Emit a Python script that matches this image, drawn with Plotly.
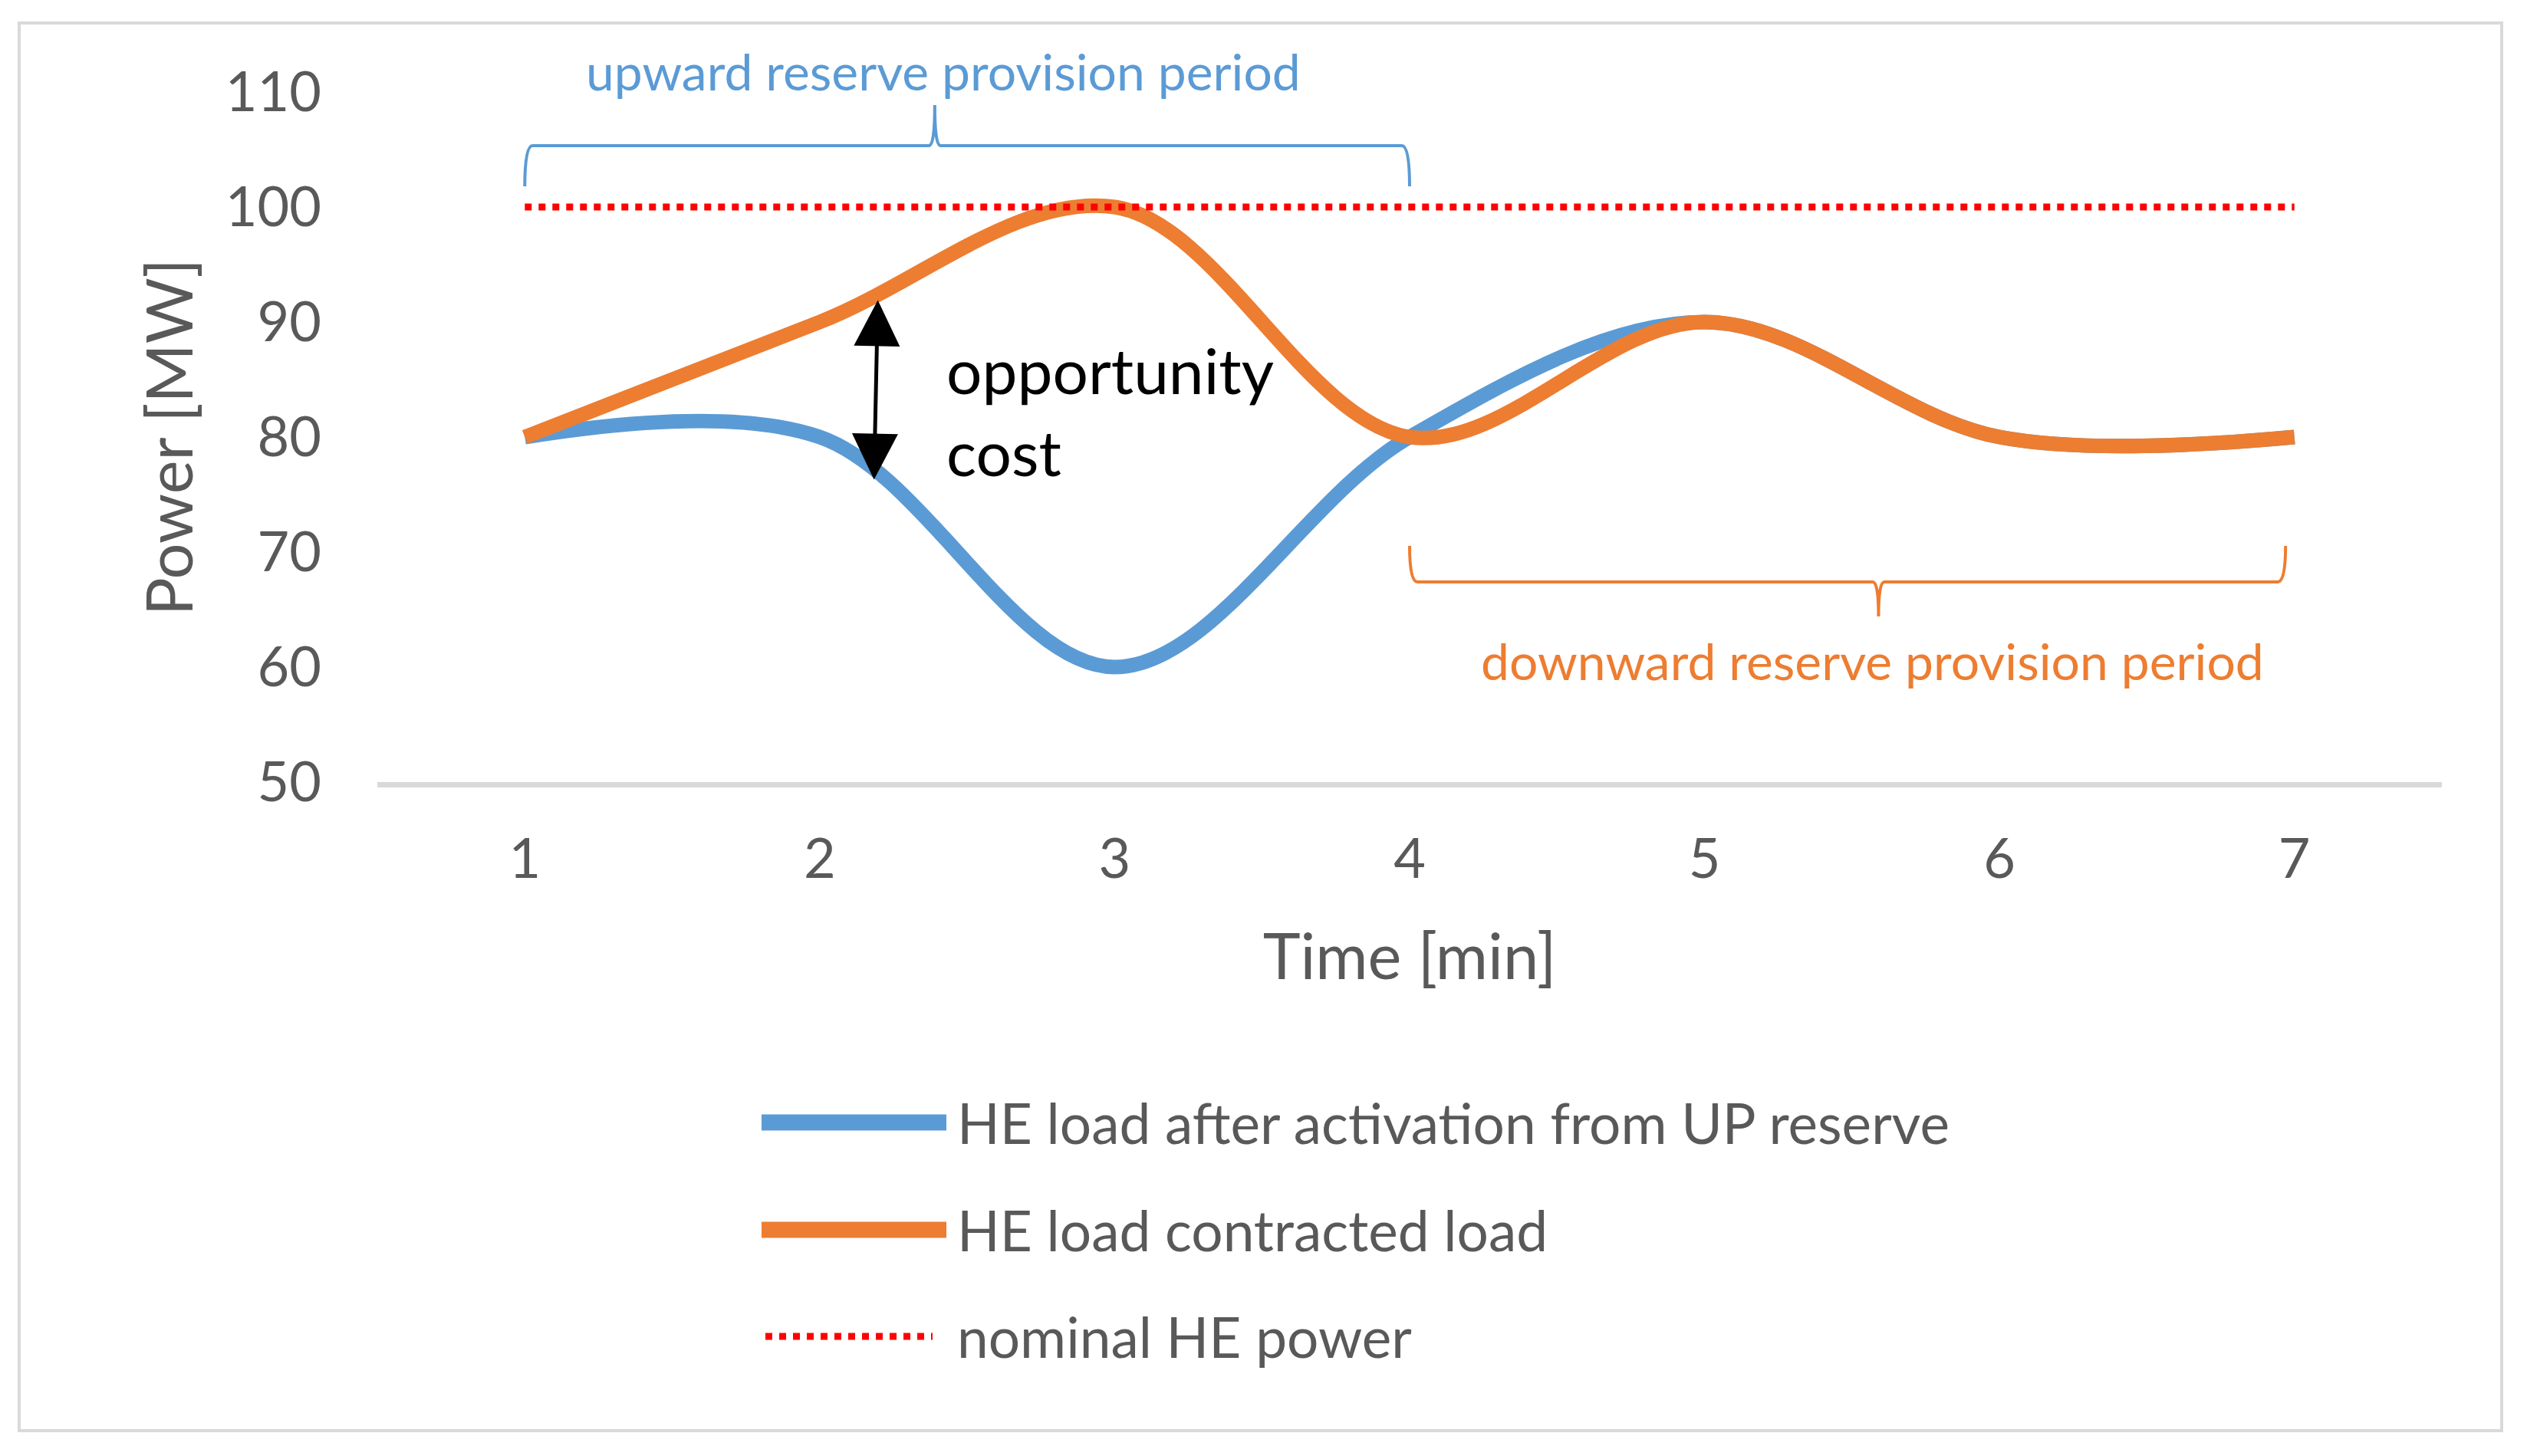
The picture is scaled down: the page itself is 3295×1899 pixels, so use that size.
import plotly.graph_objects as go

# data
time_min = [1, 2, 3, 4, 5, 6, 7]
load_after_activation = [80, 80, 60, 80, 90, 80, 80]
contracted_load = [80, 90, 100, 80, 90, 80, 80]
nominal_power = [100, 100, 100, 100, 100, 100, 100]
y_ticks = [50, 60, 70, 80, 90, 100, 110]

series_names = ["HE load after activation from UP reserve",
                "HE load contracted load",
                "nominal HE power"]

BLUE = "#5B9BD5"
ORANGE = "#ED7D31"
RED = "#FF0000"
GREY = "#595959"
FONT = "Lato"

# the page has an 8px body margin, so the figure is a bit smaller than the window
W, H = 3279, 1883
L, R, T, B = 484, 103, 112, 871
PLOT_LEFT, PLOT_TOP = 492, 120   # in page pixels
PLOT_W, PLOT_H = W - L - R, H - T - B


def px_x(X):
    return (X - PLOT_LEFT) / PLOT_W


def px_y(Y):
    return (PLOT_TOP + PLOT_H - Y) / PLOT_H


def brace(x0, x1, xt, yh, yend, ytip, rx=0.026, rt=0.02):
    return (f"M {x0},{yend} Q {x0},{yh} {x0 + rx},{yh} "
            f"L {xt - rt},{yh} Q {xt},{yh} {xt},{ytip} "
            f"Q {xt},{yh} {xt + rt},{yh} L {x1 - rx},{yh} "
            f"Q {x1},{yh} {x1},{yend}")


fig = go.Figure()
fig.add_trace(go.Scatter(x=time_min, y=load_after_activation, mode="lines",
                         name=series_names[0],
                         line=dict(color=BLUE, width=19, shape="spline", smoothing=1)))
fig.add_trace(go.Scatter(x=time_min, y=contracted_load, mode="lines",
                         name=series_names[1],
                         line=dict(color=ORANGE, width=19, shape="spline", smoothing=1)))
fig.add_trace(go.Scatter(x=time_min, y=nominal_power, mode="lines",
                         name=series_names[2],
                         line=dict(color=RED, width=9, dash="dot")))

shapes = []
# outer chart border
shapes.append(dict(type="rect", xref="paper", yref="paper",
                   x0=px_x(25), x1=px_x(3262), y0=px_y(1866), y1=px_y(30),
                   line=dict(color="#D9D9D9", width=4), layer="below"))
# braces
shapes.append(dict(type="path", xref="x", yref="y",
                   path=brace(1, 4, 2.39, 105.33, 101.8, 108.87),
                   line=dict(color=BLUE, width=4)))
shapes.append(dict(type="path", xref="x", yref="y",
                   path=brace(4, 6.97, 5.59, 67.4, 70.53, 64.4),
                   line=dict(color=ORANGE, width=4)))

# hand made legend (wide line samples like the original)
legend_rows = [1464, 1604, 1743]
legend_styles = [dict(color=BLUE, width=21), dict(color=ORANGE, width=21),
                 dict(color=RED, width=9, dash="dot")]
legend_x = [(993, 1234), (993, 1234), (998, 1216)]
annotations = []
for name, yy, st, (xa, xb) in zip(series_names, legend_rows, legend_styles, legend_x):
    shapes.append(dict(type="line", xref="paper", yref="paper",
                       x0=px_x(xa), x1=px_x(xb), y0=px_y(yy), y1=px_y(yy), line=st))
    annotations.append(dict(xref="paper", yref="paper", x=px_x(1246), y=px_y(yy),
                            text=name, showarrow=False, xanchor="left", yanchor="middle",
                            font=dict(family=FONT, size=73, color=GREY)))

annotations.append(dict(xref="x", yref="paper", x=2.42, y=px_y(93),
                        text="upward reserve provision period", showarrow=False,
                        xanchor="center", yanchor="middle",
                        font=dict(family=FONT, size=66, color=BLUE)))
annotations.append(dict(xref="x", yref="y", x=5.57, y=60.6,
                        text="downward reserve provision period", showarrow=False,
                        xanchor="center", yanchor="middle",
                        font=dict(family=FONT, size=66, color=ORANGE)))
annotations.append(dict(xref="x", yref="y", x=2.197, y=91.9,
                        axref="x", ayref="y", ax=2.184, ay=76.2,
                        text="", showarrow=True, arrowside="end+start",
                        arrowhead=2, startarrowhead=2, arrowsize=2.4, startarrowsize=2.4,
                        arrowwidth=5, arrowcolor="black"))
annotations.append(dict(xref="x", yref="y", x=2.425, y=82.3,
                        text="opportunity<br>cost", showarrow=False,
                        xanchor="left", yanchor="middle", align="left",
                        font=dict(family=FONT, size=82, color="black")))

fig.update_layout(
    width=W, height=H,
    margin=dict(l=L, r=R, t=T, b=B),
    paper_bgcolor="white", plot_bgcolor="white",
    showlegend=False,
    font=dict(family=FONT, color=GREY),
    shapes=shapes,
    annotations=annotations,
    xaxis=dict(range=[0.5, 7.5], tickvals=time_min, showgrid=False, zeroline=False,
               showline=True, linecolor="#D9D9D9", linewidth=7, ticks="",
               tickfont=dict(family=FONT, size=72, color=GREY), ticklabelstandoff=32,
               title=dict(text="Time [min]", standoff=62,
                          font=dict(family=FONT, size=83, color=GREY))),
    yaxis=dict(range=[50, 110], tickvals=y_ticks, showgrid=False, zeroline=False,
               showline=False, ticks="",
               tickfont=dict(family=FONT, size=72, color=GREY), ticklabelstandoff=72,
               title=dict(text="Power [MW]", standoff=14,
                          font=dict(family=FONT, size=83, color=GREY))),
)

fig.write_html("out.html")
